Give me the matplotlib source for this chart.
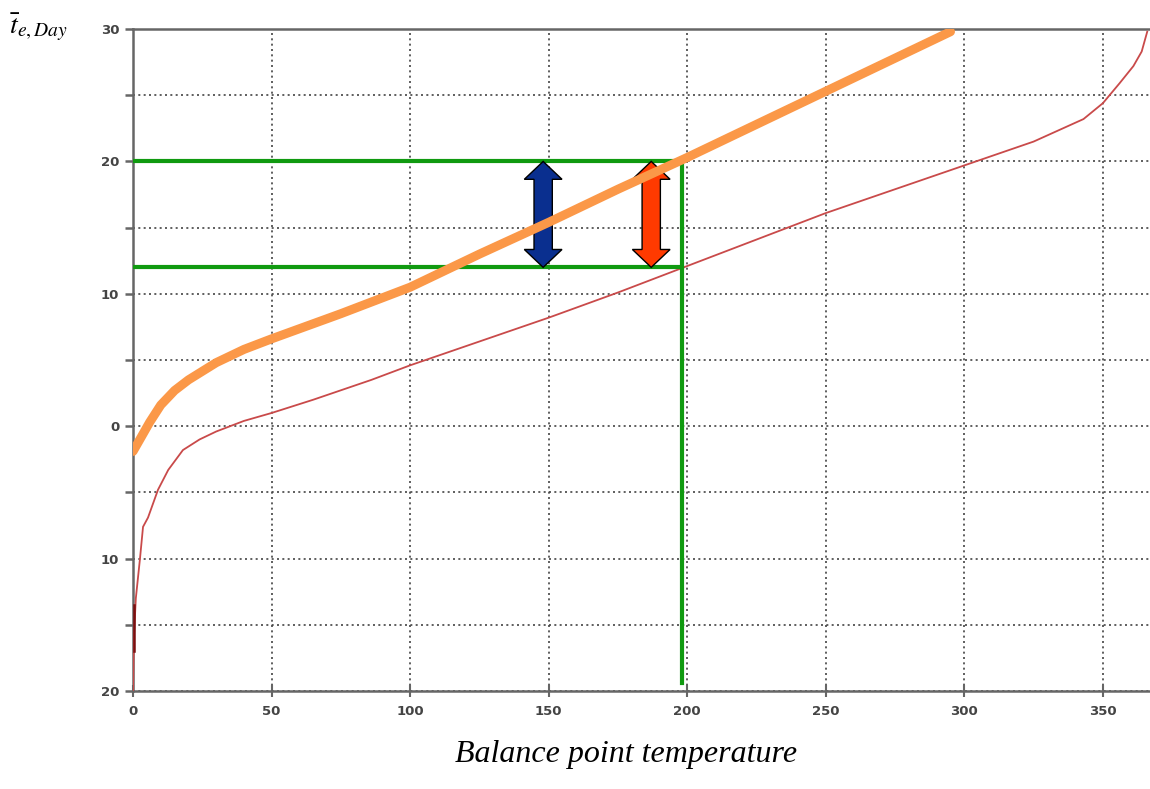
import numpy as np
import matplotlib
matplotlib.use('Agg')
import matplotlib.pyplot as plt
from matplotlib.patches import Polygon
from matplotlib.ticker import MultipleLocator, FixedLocator, FixedFormatter

plt.rcParams['mathtext.fontset'] = 'stix'

# sorted daily mean outdoor temperature (duration curve)
days_red = [0, 0.3, 1, 2.5, 3.6, 5.4, 9, 12.7, 18, 24, 30, 40, 50, 65, 86, 100,
            125, 150, 175, 200, 225, 250, 275, 300, 325, 343, 350, 356, 361, 364, 366]
temp_red = [-20, -16, -13, -10, -7.6, -6.9, -4.8, -3.3, -1.8, -1.0, -0.4, 0.4, 1.0, 2.0, 3.5, 4.6,
            6.4, 8.2, 10.1, 12.1, 14.1, 16.1, 17.9, 19.7, 21.5, 23.2, 24.4, 25.9, 27.2, 28.3, 29.8]

# balance point temperature curve
days_orange = [0, 3, 6, 10, 15, 20, 30, 40, 50, 75, 100, 125, 150, 175, 200, 225, 250, 275, 295]
temp_orange = [-1.9, -0.8, 0.3, 1.6, 2.7, 3.5, 4.8, 5.8, 6.6, 8.5, 10.5, 13.0, 15.4, 17.9,
               20.3, 22.8, 25.3, 27.8, 29.8]

# green construction lines
t_high = 20
t_low = 12
day_mark = 198
day_bottom = -19.4

# double arrows: (x, colour)
arrows = [(148, '#0a2f8f'), (187, '#ff3a00')]

y_ticks = [-20, -10, 0, 10, 20, 30]
y_labels = ['20', '10', '0', '10', '20', '30']
x_ticks = [0, 50, 100, 150, 200, 250, 300, 350]


def double_arrow(ax, x, y0, y1, color):
    hw = 6.8     # half head width (days)
    sw = 3.3     # half shaft width
    hl = 1.35    # head length (deg)
    pts = [(x, y1), (x + hw, y1 - hl), (x + sw, y1 - hl), (x + sw, y0 + hl),
           (x + hw, y0 + hl), (x, y0), (x - hw, y0 + hl), (x - sw, y0 + hl),
           (x - sw, y1 - hl), (x - hw, y1 - hl)]
    ax.add_patch(Polygon(pts, closed=True, facecolor=color, edgecolor='black',
                         linewidth=1.0, zorder=4))


fig = plt.figure(figsize=(11.5, 7.89), dpi=100)
ax = fig.add_axes([0.1157, 0.1242, 0.8843, 0.839])

ax.plot(days_red, temp_red, color='#c94a4a', linewidth=1.3, zorder=3)
ax.plot([0.3, 0.3], [-17, -13.5], color='#7a0f0f', linewidth=1.8, zorder=3)

ax.plot([0.5, day_mark], [t_high, t_high], color='#109a10', linewidth=3, zorder=3)
ax.plot([0.5, day_mark], [t_low, t_low], color='#109a10', linewidth=3, zorder=3)
ax.plot([day_mark, day_mark], [t_high, day_bottom], color='#109a10', linewidth=3, zorder=3)

for xa, col in arrows:
    double_arrow(ax, xa, t_low, t_high, col)

ax.plot(days_orange, temp_orange, color='#fb9848', linewidth=6.5, solid_capstyle='round', zorder=5)

ax.set_xlim(0, 367)
ax.set_ylim(-20, 30)

ax.xaxis.set_major_locator(FixedLocator(x_ticks))
ax.yaxis.set_major_locator(FixedLocator(y_ticks))
ax.yaxis.set_major_formatter(FixedFormatter(y_labels))
ax.yaxis.set_minor_locator(MultipleLocator(5))

ax.grid(which='both', axis='y', linestyle=(0, (1.2, 2.0)), color='#444444', linewidth=1.2)
ax.grid(which='major', axis='x', linestyle=(0, (1.2, 2.0)), color='#444444', linewidth=1.2)
ax.set_axisbelow(True)

for s in ['left', 'top', 'bottom']:
    ax.spines[s].set_color('#666666')
    ax.spines[s].set_linewidth(1.8)
ax.spines['right'].set_visible(False)

ax.tick_params(axis='y', which='both', direction='out', length=6, width=1.8,
               color='#666666', labelsize=9.5, labelcolor='#444444', pad=4)
ax.tick_params(axis='x', which='major', direction='inout', length=8, width=1.5,
               color='#666666', labelsize=9.5, labelcolor='#444444', pad=6)
for lab in ax.get_xticklabels() + ax.get_yticklabels():
    lab.set_fontweight('bold')

fig.text(0.544, 0.025, 'Balance point temperature', fontsize=23, style='italic',
         family='Liberation Serif', ha='center', va='bottom')
fig.text(0.008, 0.965, r'$\bar{t}_{e,Day}$', fontsize=20, ha='left', va='center')

fig.savefig('out.png', dpi=100)
